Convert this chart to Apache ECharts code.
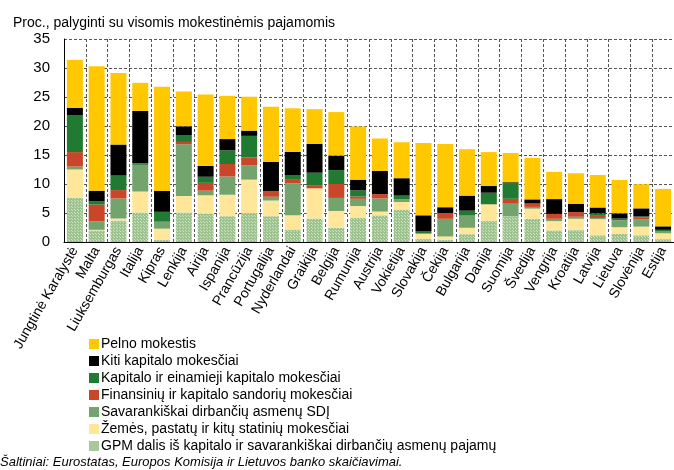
<!DOCTYPE html>
<html>
<head>
<meta charset="utf-8">
<script src="https://cdn.jsdelivr.net/npm/echarts@6/dist/echarts.min.js"></script>
<style>
  html, body { margin: 0; padding: 0; background: #fff; }
  #chart { width: 674px; height: 470px; }
</style>
</head>
<body>
<div id="chart"></div>
<script>
// šalys
const countries = ['Jungtinė Karalystė', 'Malta', 'Liuksemburgas', 'Italija', 'Kipras', 'Lenkija', 'Airija',
  'Ispanija', 'Prancūzija', 'Portugalija', 'Nyderlandai', 'Graikija', 'Belgija', 'Rumunija', 'Austrija',
  'Vokietija', 'Slovakija', 'Čekija', 'Bulgarija', 'Danija', 'Suomija', 'Švedija', 'Vengrija', 'Kroatija',
  'Latvija', 'Lietuva', 'Slovėnija', 'Estija'];

// serijos (nuo apačios į viršų)
const gpm = [7.65, 2.0, 3.7, 5.1, 0.4, 5.1, 4.85, 4.45, 5.0, 4.45, 2.15, 4.05, 2.45, 4.2, 4.6,
  5.6, 0.55, 0.4, 1.35, 3.65, 4.45, 4.0, 2.0, 2.05, 1.15, 1.45, 1.15, 0.5];
const zemes = [4.85, 0.1, 0.35, 3.6, 1.9, 2.85, 3.2, 3.7, 5.75, 2.7, 2.45, 5.2, 2.9, 2.0, 0.65,
  1.3, 0.9, 0.55, 1.1, 2.85, 0, 1.75, 1.6, 1.95, 2.8, 1.1, 1.5, 1.0];
const sdi = [0.5, 1.45, 3.45, 4.6, 1.2, 8.9, 0.8, 3.15, 2.5, 0.65, 5.5, 0, 2.25, 1.25, 2.25,
  0.5, 0, 3.05, 2.1, 0, 2.15, 0.3, 0.4, 0.35, 0.2, 1.2, 1.3, 0.3];
const finansiniu = [2.5, 2.9, 1.45, 0, 0, 0.4, 1.35, 2.15, 1.35, 1.0, 0.75, 0.45, 2.4, 0.4, 0.75,
  0, 0, 1.0, 0, 0, 0.85, 0.6, 0.85, 0.8, 0.5, 0, 0.25, 0];
const kapitalo = [6.4, 0.55, 2.5, 0.3, 1.7, 1.2, 1.05, 2.35, 3.7, 0, 0.7, 2.25, 2.4, 1.05, 0,
  0.6, 0.45, 0, 0.85, 2.0, 2.65, 0, 0, 0, 0.3, 0.3, 0.2, 0.3];
const kiti = [1.2, 1.85, 5.35, 9.0, 3.6, 1.5, 1.85, 1.95, 0.9, 5.0, 4.0, 4.95, 2.5, 1.85, 4.0,
  3.0, 2.7, 1.0, 2.6, 1.15, 0.2, 0.7, 2.55, 1.45, 1.0, 0.9, 1.4, 0.6];
const pelno = [8.3, 21.45, 12.35, 4.85, 17.95, 6.0, 12.35, 7.45, 5.85, 9.5, 7.5, 6.0, 7.5, 9.15, 5.6,
  6.2, 12.45, 10.9, 8.0, 5.85, 5.05, 7.15, 4.7, 5.25, 5.6, 5.75, 4.15, 6.45];

const yTicks = [0, 5, 10, 15, 20, 25, 30, 35];

// taškuotas raštas GPM serijai
function makePattern() {
  const c = document.createElement('canvas');
  c.width = 3;
  c.height = 3;
  const ctx = c.getContext('2d');
  ctx.fillStyle = '#9cc28d';
  ctx.fillRect(0, 0, 3, 3);
  ctx.fillStyle = '#cfe3c4';
  ctx.fillRect(0, 0, 1, 1);
  ctx.fillRect(2, 2, 1, 1);
  return c;
}

const seriesDefs = [
  { name: 'GPM dalis iš kapitalo ir savarankiškai dirbančių asmenų pajamų', data: gpm, color: { image: makePattern(), repeat: 'repeat' } },
  { name: 'Žemės, pastatų ir kitų statinių mokesčiai', data: zemes, color: '#ffe699' },
  { name: 'Savarankiškai dirbančių asmenų SDĮ', data: sdi, color: '#74a46e' },
  { name: 'Finansinių ir kapitalo sandorių mokesčiai', data: finansiniu, color: '#c94628' },
  { name: 'Kapitalo ir einamieji kapitalo mokesčiai', data: kapitalo, color: '#217a31' },
  { name: 'Kiti kapitalo mokesčiai', data: kiti, color: '#000000' },
  { name: 'Pelno mokestis', data: pelno, color: '#ffc800' }
];

const legendColors = {
  'GPM dalis iš kapitalo ir savarankiškai dirbančių asmenų pajamų': '#a7c99a'
};

const chart = echarts.init(document.getElementById('chart'), null, { renderer: 'canvas' });

const option = {
  animation: false,
  textStyle: { fontFamily: 'Liberation Sans, Arial, sans-serif', color: '#000' },
  title: {
    text: 'Proc., palyginti su visomis mokestinėmis pajamomis',
    left: 8,
    top: 11,
    textStyle: { fontSize: 14, fontWeight: 'normal', color: '#000' }
  },
  grid: {
    left: 64,
    right: 0,
    top: 39,
    bottom: 228,
    containLabel: false
  },
  legend: {
    orient: 'vertical',
    left: 84,
    top: 332,
    itemWidth: 10,
    itemHeight: 10,
    itemGap: 3,
    icon: 'rect',
    data: seriesDefs.slice().reverse().map(s => ({
      name: s.name,
      itemStyle: legendColors[s.name] ? { color: legendColors[s.name] } : undefined
    })),
    textStyle: { fontSize: 14, color: '#000', padding: [0, 0, 0, -3], lineHeight: 14 }
  },
  xAxis: {
    type: 'category',
    data: countries,
    axisLine: { show: true, lineStyle: { color: '#000', width: 1 } },
    axisTick: { show: false },
    splitLine: { show: true, interval: 0, lineStyle: { color: '#555', type: [3, 2], width: 1 } },
    axisLabel: {
      interval: 0,
      rotate: 60,
      fontSize: 14,
      color: '#000',
      margin: 6
    }
  },
  yAxis: {
    type: 'value',
    min: 0,
    max: 35,
    interval: 5,
    axisLine: { show: true, lineStyle: { color: '#000', width: 1 } },
    axisTick: { show: false },
    axisLabel: {
      fontSize: 15,
      color: '#000',
      margin: 14,
      formatter: v => (yTicks.includes(v) ? String(v) : '')
    },
    splitLine: { show: true, lineStyle: { color: '#555', type: [3, 2], width: 1 } }
  },
  series: seriesDefs.map(s => ({
    name: s.name,
    type: 'bar',
    stack: 'total',
    barWidth: 16,
    data: s.data,
    itemStyle: { color: s.color },
    emphasis: { disabled: true }
  }))
};

chart.setOption(option);

// šaltinis
chart.setOption({
  graphic: [{
    type: 'text',
    left: 0,
    top: 456,
    style: {
      text: 'Šaltiniai: Eurostatas, Europos Komisija ir Lietuvos banko skaičiavimai.',
      font: 'italic 13px Liberation Sans, Arial, sans-serif',
      fill: '#000'
    }
  }]
});
</script>
</body>
</html>
